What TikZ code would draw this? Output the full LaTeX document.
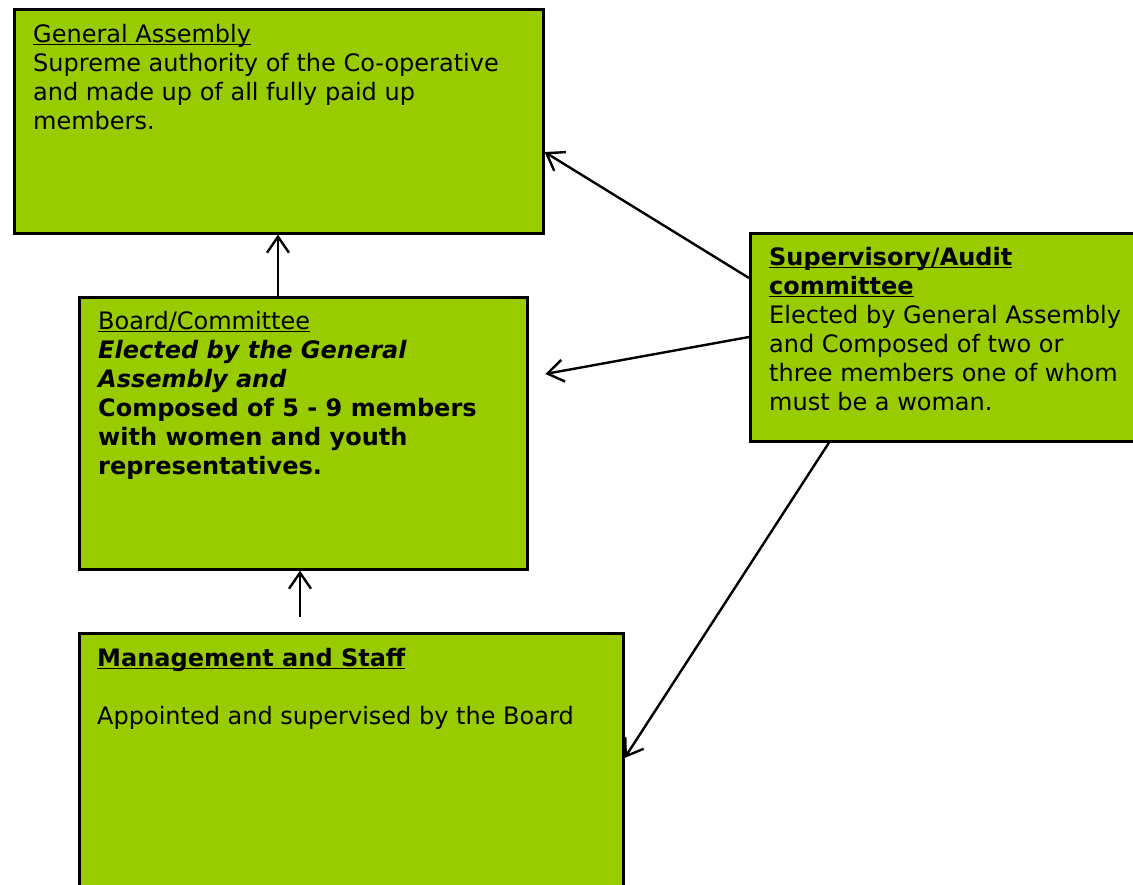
\documentclass[tikz,border=0pt]{standalone}
\usepackage{fontspec}
\setmainfont{DejaVu Sans}
\usepackage{tikz}
\usetikzlibrary{arrows.meta, positioning, calc}
\definecolor{coopgreen}{RGB}{153,204,0}
\newcommand{\ulbox}[1]{\underline{\smash{#1}}\vphantom{#1}}
\tikzset{
  orgbox/.style={draw=black, line width=2.6pt, fill=coopgreen, anchor=north west, inner sep=0pt},
  orgtext/.style={anchor=north west, align=left, inner sep=0pt, font=\fontsize{24}{29}\selectfont},
  orgarrow/.style={-{Straight Barb[length=16pt, width=22pt]}, line width=2.4pt, draw=black},
}

\begin{document}
\begin{tikzpicture}[x=1pt, y=-1pt]
\clip (0,0) rectangle (1133,884);
% boxes
\node[orgbox, minimum width=529pt, minimum height=224pt] (assembly) at (13,8) {};
\node[orgbox, minimum width=448pt, minimum height=272pt] (board) at (78,296) {};
\node[orgbox, minimum width=544pt, minimum height=280pt] (staff) at (78,632) {};
\node[orgbox, minimum width=420pt, minimum height=208pt] (audit) at (749,232) {};
% texts
\node[orgtext] (assemblytxt) at (33,24) {\ulbox{General Assembly}\\
  Supreme authority of the Co-operative\\
  and made up of all fully paid up\\
  members.};
\node[orgtext] (boardtxt) at (98,311) {\ulbox{Board/Committee}\\
  \textbf{\textit{Elected by the General}}\\
  \textbf{\textit{Assembly and}}\\
  \textbf{Composed of 5 - 9 members}\\
  \textbf{with women and youth}\\
  \textbf{representatives.}};
\node[orgtext] (stafftxt) at (97,648) {\textbf{\ulbox{Management and Staff}}\\[29pt]
  Appointed and supervised by the Board};
\node[orgtext] (audittxt) at (769,247) {\textbf{\ulbox{Supervisory/Audit}}\\
  \textbf{\ulbox{committee}}\\
  Elected by General Assembly\\
  and Composed of two or\\
  three members one of whom\\
  must be a woman.};
% connectors
\coordinate (stafftop) at (300,617);
\draw[orgarrow] (board.north -| 278,0) -- (assembly.south -| 278,0);
\draw[orgarrow] (stafftop) -- (board.south -| stafftop);
\draw[orgarrow] (audit.west |- 0,278) -- (assembly.east |- 0,152);
\draw[orgarrow, shorten >=17pt] (audit.west |- 0,337) -- (board.east |- 0,377);
\draw[orgarrow] (audit.south -| 829,0) -- (staff.east |- 0,758);
\end{tikzpicture}
\end{document}
